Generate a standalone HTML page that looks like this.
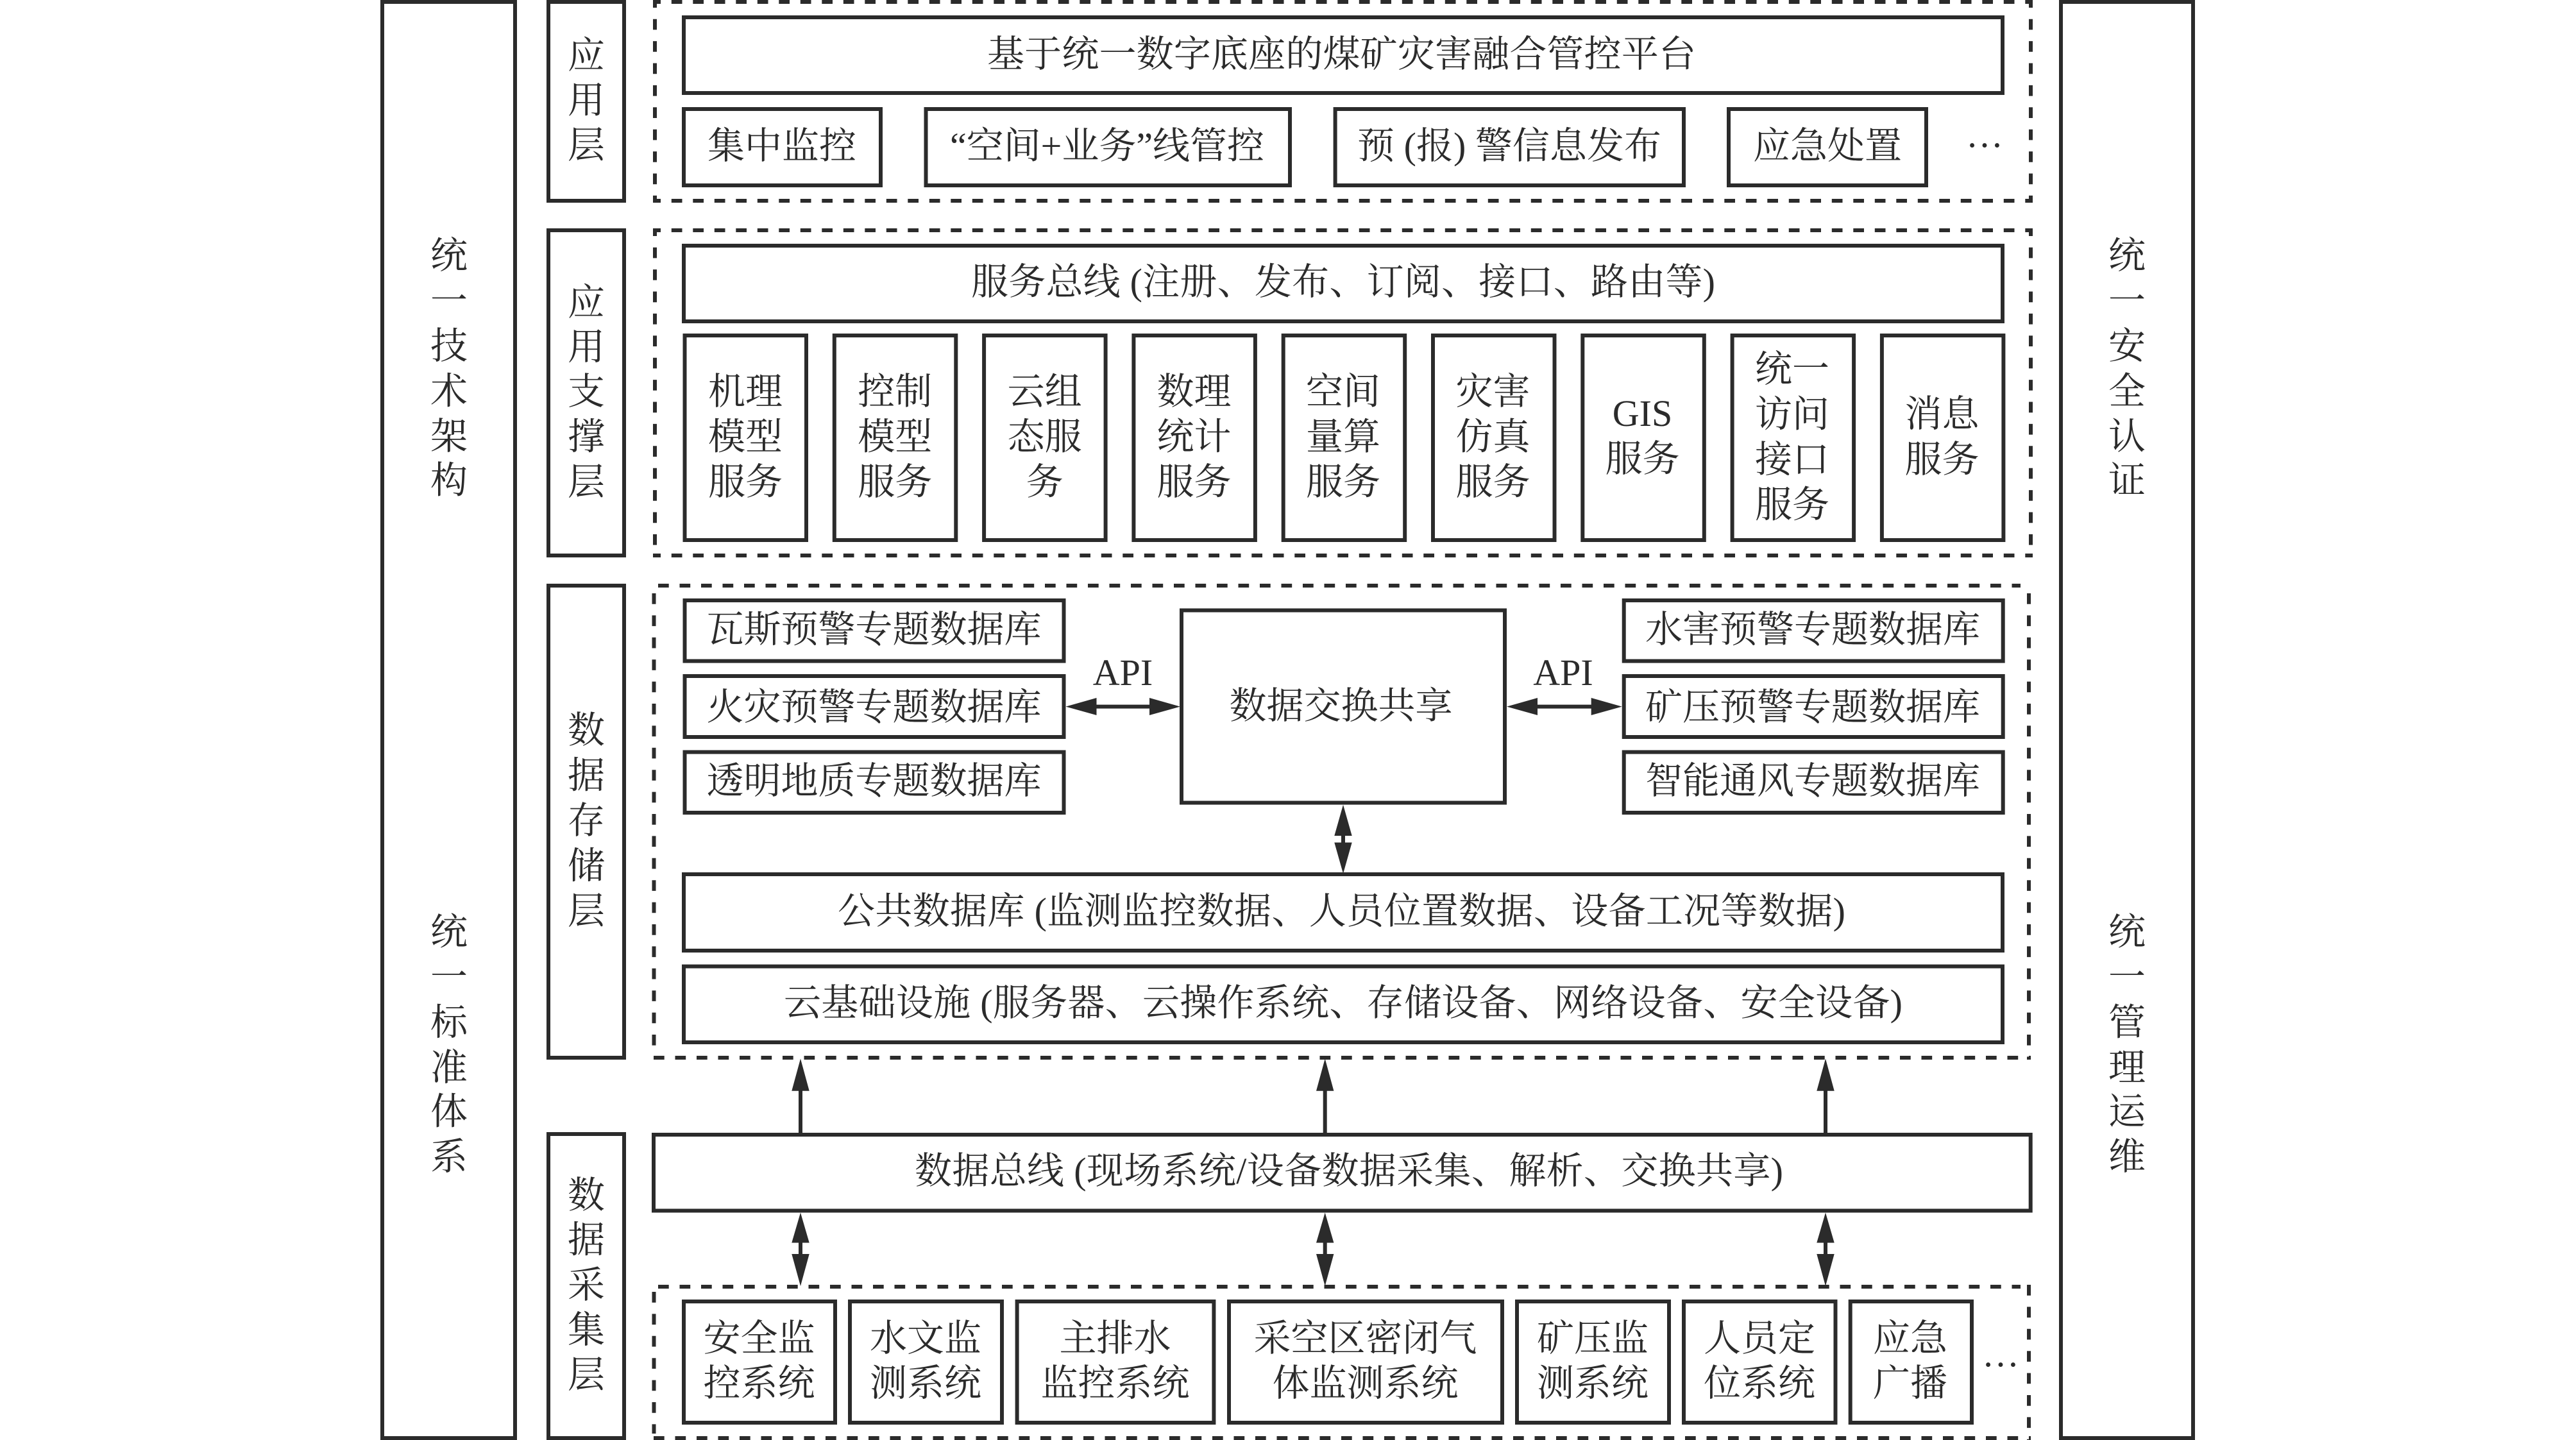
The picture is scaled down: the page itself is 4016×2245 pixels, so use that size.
<!DOCTYPE html>
<html lang="zh-CN">
<head>
<meta charset="utf-8">
<title>基于统一数字底座的煤矿灾害融合管控平台架构</title>
<style>
html,body{margin:0;padding:0;background:#fff;width:4016px;height:2245px;overflow:hidden}
svg{display:block}
text{font-family:"Liberation Serif","Noto Serif CJK SC",serif;font-size:58px;fill:#2b2b2b;text-anchor:middle}
.s{text-anchor:start}
rect{fill:none;stroke:#2b2b2b;stroke-width:6}
.d{stroke:#2b2b2b;stroke-width:6;fill:none}
polygon{fill:#2b2b2b}
</style>
</head>
<body>
<svg xmlns="http://www.w3.org/2000/svg" width="4016" height="2245" viewBox="0 0 4016 2245">
<rect x="0" y="0" width="4016" height="2245" style="fill:#fff;stroke:none"/>

<!-- side bars -->
<rect x="596" y="3" width="207" height="2239"/>
<rect x="3213" y="3" width="206" height="2239"/>

<!-- layer label boxes -->
<rect x="855" y="3" width="118" height="310"/>
<rect x="855" y="359" width="118" height="507"/>
<rect x="855" y="913" width="118" height="736"/>
<rect x="855" y="1768" width="118" height="474"/>

<!-- dashed groups -->
<path class="d" stroke-dasharray="16.7 16.8" stroke-dashoffset="4.7" d="M1018 3H3169"/>
<path class="d" stroke-dasharray="16.7 16.8" stroke-dashoffset="4.7" d="M1018 313H3169"/>
<path class="d" stroke-dasharray="16.7 17.7" stroke-dashoffset="4.7" d="M1021 0V316"/>
<path class="d" stroke-dasharray="16.7 17.7" stroke-dashoffset="4.7" d="M3166 0V316"/>

<path class="d" stroke-dasharray="16.7 16.8" stroke-dashoffset="4.7" d="M1018 359H3169"/>
<path class="d" stroke-dasharray="16.7 16.8" stroke-dashoffset="4.7" d="M1018 866H3169"/>
<path class="d" stroke-dasharray="16.7 17.7" stroke-dashoffset="4.7" d="M1021 356V869"/>
<path class="d" stroke-dasharray="16.7 17.7" stroke-dashoffset="4.7" d="M3166 356V869"/>

<path class="d" stroke-dasharray="16.7 16.8" d="M1026 913H3150"/>
<path class="d" stroke-dasharray="16.7 16.8" d="M1019 1649H3166"/>
<path class="d" stroke-dasharray="16.7 17.7" d="M1019.5 925V1640"/>
<path class="d" stroke-dasharray="16.7 17.7" d="M3163 925V1652"/>

<path class="d" stroke-dasharray="16.7 16.8" d="M1026 2006H3150"/>
<path class="d" stroke-dasharray="16.7 16.8" d="M1019 2242H3166"/>
<path class="d" stroke-dasharray="16.7 17.7" d="M1019.5 2014V2235"/>
<path class="d" stroke-dasharray="16.7 17.7" d="M3163 2003V2245"/>

<!-- application layer -->
<rect x="1066" y="27" width="2056" height="118"/>
<rect x="1066" y="170" width="307" height="119"/>
<rect x="1443.5" y="170" width="567.5" height="119"/>
<rect x="2081.6" y="170" width="543.4" height="119"/>
<rect x="2695" y="170" width="308" height="119"/>

<!-- support layer -->
<rect x="1066" y="383" width="2056" height="118"/>
<rect x="1067.5" y="523" width="189.5" height="319"/>
<rect x="1300.8" y="523" width="189.5" height="319"/>
<rect x="1534.1" y="523" width="189.5" height="319"/>
<rect x="1767.4" y="523" width="189.5" height="319"/>
<rect x="2000.7" y="523" width="189.5" height="319"/>
<rect x="2234" y="523" width="189.5" height="319"/>
<rect x="2467.3" y="523" width="189.5" height="319"/>
<rect x="2700.6" y="523" width="189.5" height="319"/>
<rect x="2933.9" y="523" width="189.5" height="319"/>

<!-- storage layer -->
<rect x="1067.5" y="936" width="591" height="94.6"/>
<rect x="1067.5" y="1054" width="591" height="95"/>
<rect x="1067.5" y="1172.5" width="591" height="94.5"/>
<rect x="2531.7" y="936" width="591" height="94.6"/>
<rect x="2531.7" y="1054" width="591" height="95"/>
<rect x="2531.7" y="1172.5" width="591" height="94.5"/>
<rect x="1842" y="951.5" width="504" height="300"/>
<rect x="1066" y="1363" width="2056" height="119"/>
<rect x="1066" y="1506.6" width="2056" height="118.4"/>

<!-- data bus -->
<rect x="1019" y="1769" width="2146.7" height="118.5"/>

<!-- collection layer -->
<rect x="1066" y="2029" width="236" height="189"/>
<rect x="1325" y="2029" width="237" height="189"/>
<rect x="1585.6" y="2029" width="306.8" height="189"/>
<rect x="1916" y="2029" width="426" height="189"/>
<rect x="2365" y="2029" width="237" height="189"/>
<rect x="2625" y="2029" width="236.5" height="189"/>
<rect x="2884.7" y="2029" width="189.3" height="189"/>

<!-- arrows -->
<g>
<path class="d" d="M1700 1101.6H1800M2390 1101.6H2490"/>
<polygon points="1661.5,1101.6 1709.5,1088 1709.5,1115"/>
<polygon points="1840,1101.6 1792,1088 1792,1115"/>
<polygon points="2349,1101.6 2397,1088 2397,1115"/>
<polygon points="2528.7,1101.6 2480.7,1088 2480.7,1115"/>

<path class="d" d="M2094 1290V1330"/>
<polygon points="2094,1254.6 2080.3,1303 2107.7,1303"/>
<polygon points="2094,1362 2080.3,1313.5 2107.7,1313.5"/>

<path class="d" d="M1248 1690V1768M2065.7 1690V1768M2846 1690V1768"/>
<polygon points="1248,1650.5 1234.3,1700.7 1261.7,1700.7"/>
<polygon points="2065.7,1650.5 2052,1700.7 2079.4,1700.7"/>
<polygon points="2846,1650.5 2832.3,1700.7 2859.7,1700.7"/>

<path class="d" d="M1248 1930V1960M2065.7 1930V1960M2846 1930V1960"/>
<polygon points="1248,1890.5 1234.3,1937.5 1261.7,1937.5"/>
<polygon points="1248,2005 1234.3,1955 1261.7,1955"/>
<polygon points="2065.7,1890.5 2052,1937.5 2079.4,1937.5"/>
<polygon points="2065.7,2005 2052,1955 2079.4,1955"/>
<polygon points="2846,1890.5 2832.3,1937.5 2859.7,1937.5"/>
<polygon points="2846,2005 2832.3,1955 2859.7,1955"/>
</g>

<!-- side bar text -->
<text x="700" y="418">统</text><text x="700" y="488.5">一</text><text x="700" y="559">技</text><text x="700" y="629.5">术</text><text x="700" y="700">架</text><text x="700" y="768.5">构</text>
<text x="700" y="1472.5">统</text><text x="700" y="1543">一</text><text x="700" y="1613.5">标</text><text x="700" y="1684">准</text><text x="700" y="1752.5">体</text><text x="700" y="1823">系</text>
<text x="3316" y="418">统</text><text x="3316" y="488.5">一</text><text x="3316" y="559">安</text><text x="3316" y="629.5">全</text><text x="3316" y="700">认</text><text x="3316" y="768.5">证</text>
<text x="3316" y="1472.5">统</text><text x="3316" y="1543">一</text><text x="3316" y="1613.5">管</text><text x="3316" y="1684">理</text><text x="3316" y="1752.5">运</text><text x="3316" y="1823">维</text>

<!-- layer labels -->
<text x="914" y="106">应</text><text x="914" y="176">用</text><text x="914" y="246">层</text>
<text x="914" y="491">应</text><text x="914" y="560.5">用</text><text x="914" y="630">支</text><text x="914" y="700.5">撑</text><text x="914" y="771">层</text>
<text x="914" y="1158">数</text><text x="914" y="1228.5">据</text><text x="914" y="1299">存</text><text x="914" y="1369.5">储</text><text x="914" y="1440">层</text>
<text x="914" y="1883">数</text><text x="914" y="1952.5">据</text><text x="914" y="2023">采</text><text x="914" y="2093">集</text><text x="914" y="2163">层</text>

<!-- application layer text -->
<text class="s" x="1539" y="104" textLength="1105">基于统一数字底座的煤矿灾害融合管控平台</text>
<text x="1219" y="247">集中监控</text>
<text class="s" x="1481" y="247" textLength="490">“空间+业务”线管控</text>
<text class="s" x="2116" y="247" textLength="474">预 (报) 警信息发布</text>
<text x="2849" y="247">应急处置</text>
<text x="3094" y="229">…</text>

<!-- support layer text -->
<text class="s" x="1514" y="459" textLength="1160">服务总线 (注册、发布、订阅、接口、路由等)</text>
<text x="1162" y="630">机理</text><text x="1162" y="700.5">模型</text><text x="1162" y="771">服务</text>
<text x="1395.3" y="630">控制</text><text x="1395.3" y="700.5">模型</text><text x="1395.3" y="771">服务</text>
<text x="1628.6" y="630">云组</text><text x="1628.6" y="700.5">态服</text><text x="1628.6" y="771">务</text>
<text x="1861.5" y="630">数理</text><text x="1861.5" y="700.5">统计</text><text x="1861.5" y="771">服务</text>
<text x="2094" y="630">空间</text><text x="2094" y="700.5">量算</text><text x="2094" y="771">服务</text>
<text x="2327.5" y="630">灾害</text><text x="2327.5" y="700.5">仿真</text><text x="2327.5" y="771">服务</text>
<text x="2560.5" y="664">GIS</text><text x="2560.5" y="735">服务</text>
<text x="2794" y="595">统一</text><text x="2794" y="665.5">访问</text><text x="2794" y="736">接口</text><text x="2794" y="806.5">服务</text>
<text x="3027.5" y="665">消息</text><text x="3027.5" y="736">服务</text>

<!-- storage layer text -->
<text x="1362.5" y="1001">瓦斯预警专题数据库</text>
<text x="1362.5" y="1122">火灾预警专题数据库</text>
<text x="1362.5" y="1237">透明地质专题数据库</text>
<text x="2826" y="1001">水害预警专题数据库</text>
<text x="2826" y="1122">矿压预警专题数据库</text>
<text x="2826" y="1237">智能通风专题数据库</text>
<text x="1750.5" y="1068">API</text>
<text x="2437" y="1068">API</text>
<text x="2090.5" y="1120">数据交换共享</text>
<text class="s" x="1306" y="1440" textLength="1571">公共数据库 (监测监控数据、人员位置数据、设备工况等数据)</text>
<text class="s" x="1222" y="1583" textLength="1744">云基础设施 (服务器、云操作系统、存储设备、网络设备、安全设备)</text>

<!-- data bus text -->
<text class="s" x="1426" y="1845" textLength="1354">数据总线 (现场系统/设备数据采集、解析、交换共享)</text>

<!-- collection layer text -->
<text x="1183.5" y="2106">安全监</text><text x="1183.5" y="2176">控系统</text>
<text x="1443" y="2106">水文监</text><text x="1443" y="2176">测系统</text>
<text x="1738.5" y="2106">主排水</text><text x="1738.5" y="2176">监控系统</text>
<text x="2128.5" y="2106">采空区密闭气</text><text x="2128.5" y="2176">体监测系统</text>
<text x="2483" y="2106">矿压监</text><text x="2483" y="2176">测系统</text>
<text x="2743" y="2106">人员定</text><text x="2743" y="2176">位系统</text>
<text x="2978" y="2106">应急</text><text x="2978" y="2176">广播</text>
<text x="3119" y="2130">…</text>
</svg>
</body>
</html>
